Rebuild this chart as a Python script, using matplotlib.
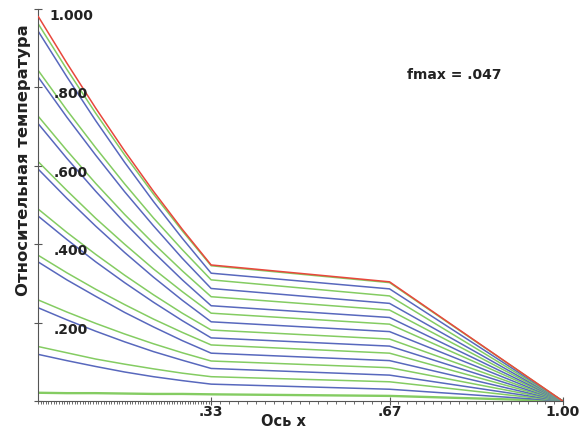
import numpy as np
import matplotlib
matplotlib.use("Agg")
import matplotlib.pyplot as plt

# x positions of the profile nodes (layer boundaries at .33 and .67)
x_nodes = [0.0, 0.055, 0.11, 0.165, 0.22, 0.275, 0.33, 0.67, 1.0]

# temperature profiles, top to bottom (first = red, then green/blue alternating)
profiles = [
    [0.982, 0.862, 0.747, 0.638, 0.535, 0.438, 0.347, 0.304, 0.0],
    [0.963, 0.846, 0.734, 0.628, 0.528, 0.434, 0.345, 0.302, 0.0],
    [0.944, 0.827, 0.715, 0.609, 0.509, 0.415, 0.326, 0.286, 0.0],
    [0.844, 0.742, 0.646, 0.554, 0.467, 0.386, 0.309, 0.268, 0.0],
    [0.827, 0.724, 0.627, 0.534, 0.447, 0.364, 0.287, 0.249, 0.0],
    [0.727, 0.639, 0.555, 0.476, 0.402, 0.332, 0.266, 0.232, 0.0],
    [0.708, 0.619, 0.535, 0.455, 0.380, 0.309, 0.243, 0.213, 0.0],
    [0.611, 0.537, 0.466, 0.400, 0.337, 0.279, 0.224, 0.196, 0.0],
    [0.592, 0.517, 0.446, 0.379, 0.316, 0.257, 0.202, 0.177, 0.0],
    [0.490, 0.430, 0.374, 0.321, 0.271, 0.224, 0.181, 0.158, 0.0],
    [0.472, 0.412, 0.355, 0.302, 0.252, 0.205, 0.161, 0.140, 0.0],
    [0.372, 0.327, 0.285, 0.246, 0.209, 0.175, 0.143, 0.122, 0.0],
    [0.355, 0.309, 0.267, 0.226, 0.189, 0.154, 0.122, 0.103, 0.0],
    [0.258, 0.227, 0.198, 0.171, 0.146, 0.123, 0.102, 0.085, 0.0],
    [0.238, 0.207, 0.178, 0.151, 0.126, 0.104, 0.083, 0.066, 0.0],
    [0.139, 0.123, 0.107, 0.094, 0.082, 0.071, 0.062, 0.049, 0.0],
    [0.119, 0.103, 0.088, 0.074, 0.062, 0.052, 0.043, 0.030, 0.0],
    [0.021, 0.020, 0.020, 0.019, 0.018, 0.018, 0.017, 0.013, 0.0],
]
line_kinds = ["red"] + ["green", "blue"] * 8 + ["green"]

y_ticks = [0.0, 0.2, 0.4, 0.6, 0.8, 1.0]
y_tick_labels = ["", ".200", ".400", ".600", ".800", "1.000"]
x_ticks = [0.33, 0.67, 1.0]
x_tick_labels = [".33", ".67", "1.00"]

colors = {"red": "#e8473c", "green": "#84cc62", "blue": "#5868bd"}

fig = plt.figure(figsize=(5.81, 4.28), dpi=100)
ax = fig.add_axes([0.0654, 0.0631, 0.9685 - 0.0654, 0.979 - 0.0631])
ax.set_xlim(0, 1)
ax.set_ylim(0, 1)

order = list(range(len(profiles)))[::-1]
for i in order:
    kind = line_kinds[i]
    lw = 1.7 if i == len(profiles) - 1 else 1.1
    ax.plot(x_nodes, profiles[i], color=colors[kind], lw=lw,
            zorder=3 if kind == "red" else 2, solid_capstyle="butt")

for s in ["top", "right"]:
    ax.spines[s].set_visible(False)
for s in ["left", "bottom"]:
    ax.spines[s].set_color("#555555")
    ax.spines[s].set_linewidth(0.8)

ax.set_yticks(y_ticks)
ax.set_yticklabels([])
ax.tick_params(axis="y", direction="inout", length=6, width=0.8, color="#555555")
ax.set_xticks(x_ticks)
ax.set_xticklabels([])
ax.tick_params(axis="x", direction="inout", length=6, width=0.8, color="#555555")
minor = np.concatenate([np.linspace(0, 0.33, 67), np.linspace(0.33, 0.67, 21),
                        np.linspace(0.67, 1.0, 21)])
ax.set_xticks(minor, minor=True)
ax.tick_params(axis="x", which="minor", direction="out", length=2.5, width=0.6,
               color="#555555")

font = dict(family="DejaVu Sans", weight="bold", color="#222222")
for v, lab in zip(y_ticks, y_tick_labels):
    if lab:
        ax.annotate(lab, xy=(0, v), xytext=(33, -7), textcoords="offset pixels",
                    ha="center", va="center", fontsize=10, **font)
for v, lab in zip(x_ticks, x_tick_labels):
    ax.annotate(lab, xy=(v, 0), xytext=(0, -11), textcoords="offset pixels",
                ha="center", va="center", fontsize=10, **font)

fig.text(283 / 581, 1 - 422 / 428, "Ось x", ha="center", va="center",
         fontsize=10.5, **font)
fig.text(24 / 581, 1 - 160 / 428, "Относительная температура", rotation=90,
         ha="center", va="center", fontsize=11.8, **font)
fig.text(454 / 581, 1 - 75 / 428, "fmax = .047", ha="center", va="center",
         fontsize=10, **font)

fig.savefig("out.png", dpi=100)
